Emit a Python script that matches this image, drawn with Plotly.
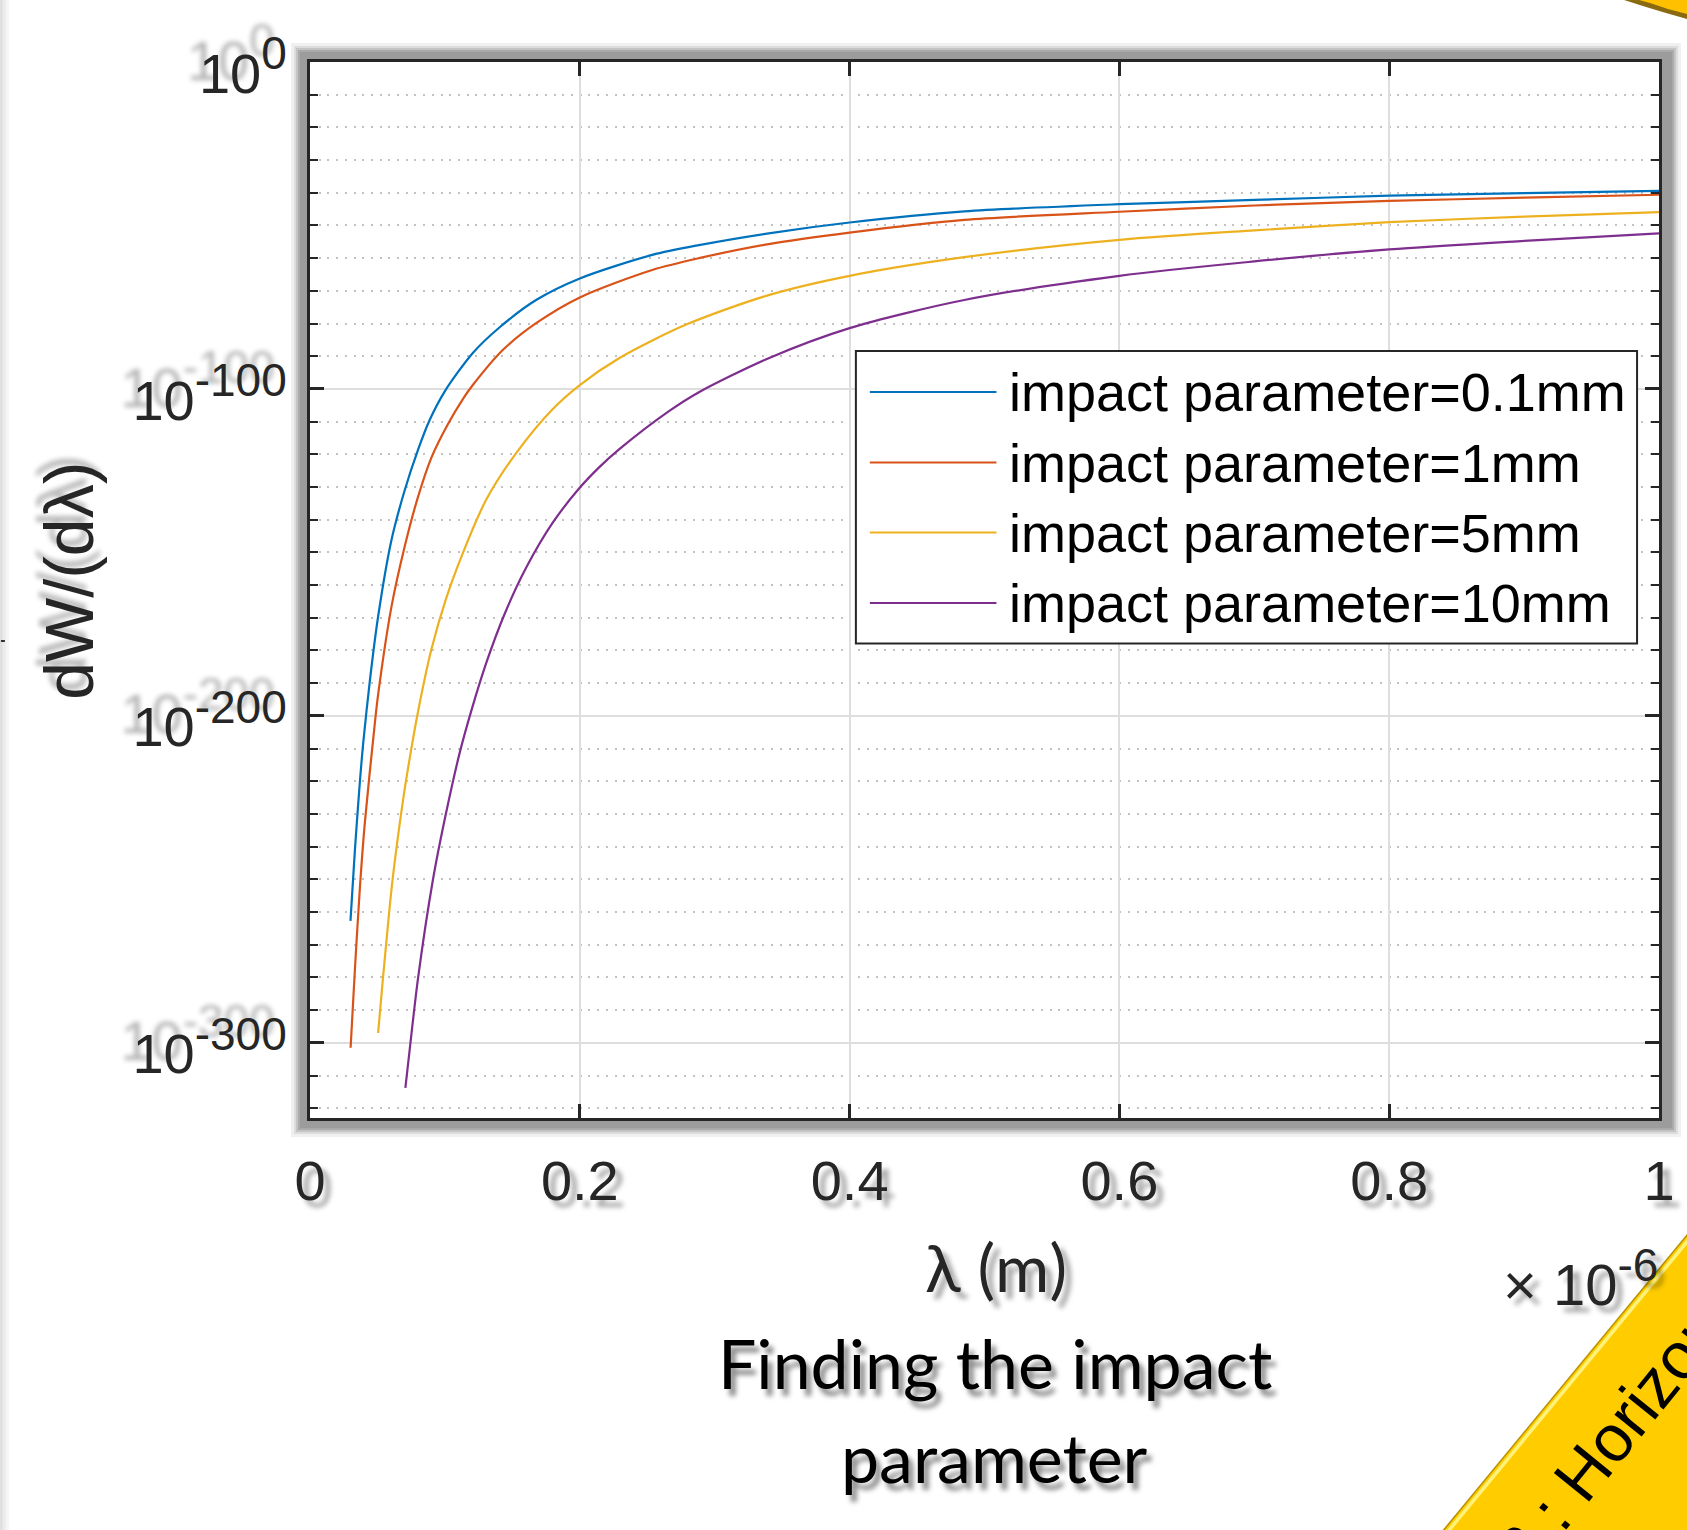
import plotly.graph_objects as go

# ---------------- data ----------------
# wavelength in micrometres (axis is in metres, x 1e-6), values as log10(dW/dlambda)
blue_lam = [0.030, 0.0333, 0.037, 0.0394, 0.0443, 0.0505, 0.0604, 0.0702, 0.080, 0.0887, 0.0998, 0.1207,
            0.1404, 0.1676, 0.200, 0.2537, 0.2883, 0.340, 0.400, 0.485, 0.600, 0.700, 0.800, 0.900, 1.000]
blue_exp = [-262.7, -241.0, -220.0, -208.5, -189.5, -169.6, -146.2, -131.0, -118.7, -109.5, -100.8, -89.0,
            -81.2, -72.8, -66.2, -59.0, -56.0, -52.4, -49.1, -45.7, -43.5, -42.2, -40.9, -40.1, -39.4]

red_lam = [0.0301, 0.0333, 0.037, 0.0407, 0.048, 0.0505, 0.0604, 0.0702, 0.0798, 0.090, 0.1022, 0.1138, 0.1207,
           0.1429, 0.1676, 0.200, 0.2537, 0.2883, 0.340, 0.400, 0.485, 0.600, 0.700, 0.800, 0.900, 1.000]
red_exp = [-301.5, -277.5, -252.5, -232.5, -202.5, -193.5, -166.6, -148.2, -133.4, -121.0, -110.8, -102.8, -98.8,
           -88.1, -79.9, -72.0, -63.6, -60.0, -55.7, -52.2, -48.3, -45.8, -43.9, -42.5, -41.5, -40.6]

yellow_lam = [0.0505, 0.0537, 0.0571, 0.0611, 0.069, 0.0739, 0.080, 0.0899, 0.101, 0.1133, 0.1306, 0.1527,
              0.1798, 0.200, 0.2291, 0.2784, 0.340, 0.400, 0.485, 0.600, 0.700, 0.800, 0.900, 1.000]
yellow_exp = [-297.0, -282.0, -267.0, -250.5, -225.7, -213.0, -198.9, -179.8, -164.0, -150.2, -133.9, -119.7,
              -106.2, -98.8, -90.6, -80.4, -71.3, -65.4, -59.7, -54.4, -51.5, -49.0, -47.3, -45.9]

purple_lam = [0.0707, 0.0739, 0.080, 0.0911, 0.0998, 0.1109, 0.1194, 0.1306, 0.1441, 0.1601, 0.1798, 0.1996,
              0.2143, 0.2291, 0.2661, 0.2883, 0.340, 0.400, 0.485, 0.600, 0.700, 0.800, 0.900, 1.000]
purple_exp = [-313.8, -302.1, -280.5, -250.2, -231.8, -211.4, -198.7, -183.9, -169.0, -154.8, -141.0, -130.4,
              -124.0, -118.5, -106.8, -101.0, -90.6, -81.4, -72.8, -65.4, -61.0, -57.3, -54.7, -52.4]

series_names = ["impact parameter=0.1mm", "impact parameter=1mm",
                "impact parameter=5mm", "impact parameter=10mm"]
series_colors = ["#0072BD", "#D95319", "#EDB120", "#7E2F8E"]
series_lam = [blue_lam, red_lam, yellow_lam, purple_lam]
series_exp = [blue_exp, red_exp, yellow_exp, purple_exp]

x_tickvals = [0, 0.2e-6, 0.4e-6, 0.6e-6, 0.8e-6, 1.0e-6]
x_ticktext = ["0", "0.2", "0.4", "0.6", "0.8", "1"]
y_tick_exps = [0, -100, -200, -300]
SUP = "<sup><span style='font-size:46px'>{}</span></sup>"
y_ticktext = ["10" + SUP.format(e) for e in ["0", "-100", "-200", "-300"]]

# ---------------- geometry ----------------
W, H = 1687, 1530
PL, PR, PT, PB = 310, 1663, 62, 1118


def fx(px):
    return (px - PL) / (PR - PL)


def fy(py):
    return (PB - py) / (PB - PT)


fig = go.Figure()
for name, col, lam, ex in zip(series_names, series_colors, series_lam, series_exp):
    fig.add_trace(go.Scatter(
        x=[v * 1e-6 for v in lam], y=[10.0 ** e for e in ex], mode="lines", name=name,
        line=dict(color=col, width=2.2, shape="spline", smoothing=0.8),
        showlegend=False, hoverinfo="skip"))

AX = "#262626"
shapes = []


def rect(x0, y0, x1, y1, fill, line_color=None, lw=0, layer="below"):
    shapes.append(dict(type="rect", xref="paper", yref="paper", x0=fx(x0), x1=fx(x1), y0=fy(y1), y1=fy(y0),
                       fillcolor=fill, line=dict(color=line_color or fill, width=lw), layer=layer))


def seg(x0, y0, x1, y1, color, lw, layer="above"):
    shapes.append(dict(type="line", xref="paper", yref="paper", x0=fx(x0), x1=fx(x1), y0=fy(y0), y1=fy(y1),
                       line=dict(color=color, width=lw), layer=layer))


def path(pts, fill, line_color, lw, layer="above"):
    d = "M " + " L ".join(f"{fx(a):.5f},{fy(b):.5f}" for a, b in pts) + " Z"
    shapes.append(dict(type="path", xref="paper", yref="paper", path=d, fillcolor=fill,
                       line=dict(color=line_color, width=lw), layer=layer))


# left page-edge shading
rect(-2, -2, 2, H + 2, "#e0e0e0")
rect(2, -2, 5, H + 2, "#ececec")
rect(5, -2, 8, H + 2, "#f6f6f6")
seg(0, 641, 4, 641, "#333333", 2)
# soft shadow around the axes box
for off, col in [(19, "#f0f0f0"), (16, "#dcdcdc"), (14, "#c4c4c4"), (12, "#aaaaaa"), (10, "#9c9c9c")]:
    rect(PL - off, PT - off, PR + off + 3, PB + off, col)
rect(PL, PT, PR, PB, "white")

# legend (drawn manually, lines and text from the series lists)
LX0, LY0, LX1, LY1 = 857.5, 351, 1641, 643.5
rect(LX0, LY0, LX1, LY1, "white", AX, 2, layer="above")
row_y = [392, 462.5, 532.5, 603]
annotations = []
for name, col, ry in zip(series_names, series_colors, row_y):
    seg(871.5, ry, 998.5, ry, col, 2.2)
    annotations.append(dict(xref="paper", yref="paper", x=fx(1009), y=fy(ry), text=name, showarrow=False,
                            xanchor="left", yanchor="middle",
                            font=dict(family="Liberation Sans, Arial", size=54, color="black")))

# yellow banner, bottom-right corner
path([(1423, 1559), (1711, 1211), (1711, 1600), (1423, 1600)], "#FFCC00", "#FFCC00", 0)
seg(1423, 1559, 1711, 1211, "#B89000", 1.5)
seg(1426.5, 1561.5, 1714.5, 1213.5, "#FFF27A", 3.5)
# yellow shape peeking in at the top-right corner
path([(1620, -12), (1628, 0), (1650, 7), (1670, 13), (1695, 20), (1695, -12)], "#8a6a10", "#8a6a10", 0)
path([(1622, -14), (1632, -3), (1654, 3), (1672, 9), (1695, 15), (1695, -14)], "#FFC000", "#FFC000", 0)

SH_Y = "-12px -13px 5px rgba(0,0,0,0.3)"
SH_X = "7px 7px 5px rgba(0,0,0,0.35)"

annotations += [
    dict(xref="paper", yref="paper", x=fx(998), y=fy(1266), text="λ (m)", showarrow=False,
         xanchor="center", yanchor="middle",
         font=dict(family="Lato", size=66, color=AX, shadow=SH_X)),
    dict(xref="paper", yref="paper", x=fx(1664), y=fy(1278), text="× 10" + SUP.format("-6"), showarrow=False,
         xanchor="right", yanchor="middle",
         font=dict(family="Liberation Sans, Arial", size=58, color=AX, shadow=SH_X)),
    dict(xref="paper", yref="paper", x=fx(68), y=fy(581), text="dW/(dλ)", showarrow=False, textangle=-90,
         xanchor="center", yanchor="middle",
         font=dict(family="Liberation Sans, Arial", size=68, color=AX, shadow="7px -7px 5px rgba(0,0,0,0.28)")),
    dict(xref="paper", yref="paper", x=fx(997), y=fy(1362), text="Finding the impact", showarrow=False,
         xanchor="center", yanchor="middle",
         font=dict(family="Lato", size=68, color="black", shadow="5px 7px 5px rgba(0,0,0,0.45)")),
    dict(xref="paper", yref="paper", x=fx(997), y=fy(1456), text="parameter", showarrow=False,
         xanchor="center", yanchor="middle",
         font=dict(family="Lato", size=68, color="black", shadow="5px 7px 5px rgba(0,0,0,0.45)")),
    dict(xref="paper", yref="paper", x=fx(1596), y=fy(1461), text="r12 : Horizon", showarrow=False,
         textangle=-51, xanchor="center", yanchor="middle",
         font=dict(family="Liberation Sans, Arial", size=66, color="black")),
]

minor_vals = [10.0 ** (-k) for k in range(10, 330, 10) if k % 100 != 0]

fig.update_layout(
    width=W, height=H, margin=dict(l=PL, r=W - PR, t=PT, b=H - PB, pad=0),
    paper_bgcolor="white", plot_bgcolor="white", showlegend=False,
    shapes=shapes, annotations=annotations,
    xaxis=dict(range=[0, 1e-6], tickmode="array", tickvals=x_tickvals, ticktext=x_ticktext,
               ticks="inside", ticklen=14, tickwidth=3, tickcolor=AX,
               showline=True, linewidth=3, linecolor=AX, mirror="allticks",
               showgrid=True, gridcolor="#dedede", gridwidth=2, zeroline=False,
               ticklabelstandoff=12,
               tickfont=dict(family="Liberation Sans, Arial", size=56, color=AX, shadow=SH_X)),
    yaxis=dict(type="log", range=[-323, 0], tickmode="array",
               tickvals=[10.0 ** e for e in y_tick_exps], ticktext=y_ticktext,
               ticks="inside", ticklen=14, tickwidth=3, tickcolor=AX,
               showline=True, linewidth=3, linecolor=AX, mirror="allticks",
               showgrid=True, gridcolor="#dedede", gridwidth=2, zeroline=False,
               ticklabelstandoff=9, ticklabelshift=11,
               minor=dict(tickmode="array", tickvals=minor_vals, ticks="inside", ticklen=8, tickwidth=2,
                          tickcolor=AX, showgrid=True, gridcolor="#c2c2c2", gridwidth=2, griddash="2px,6.7px"),
               tickfont=dict(family="Liberation Sans, Arial", size=56, color=AX, shadow=SH_Y)),
)

fig.write_html("out.html")
